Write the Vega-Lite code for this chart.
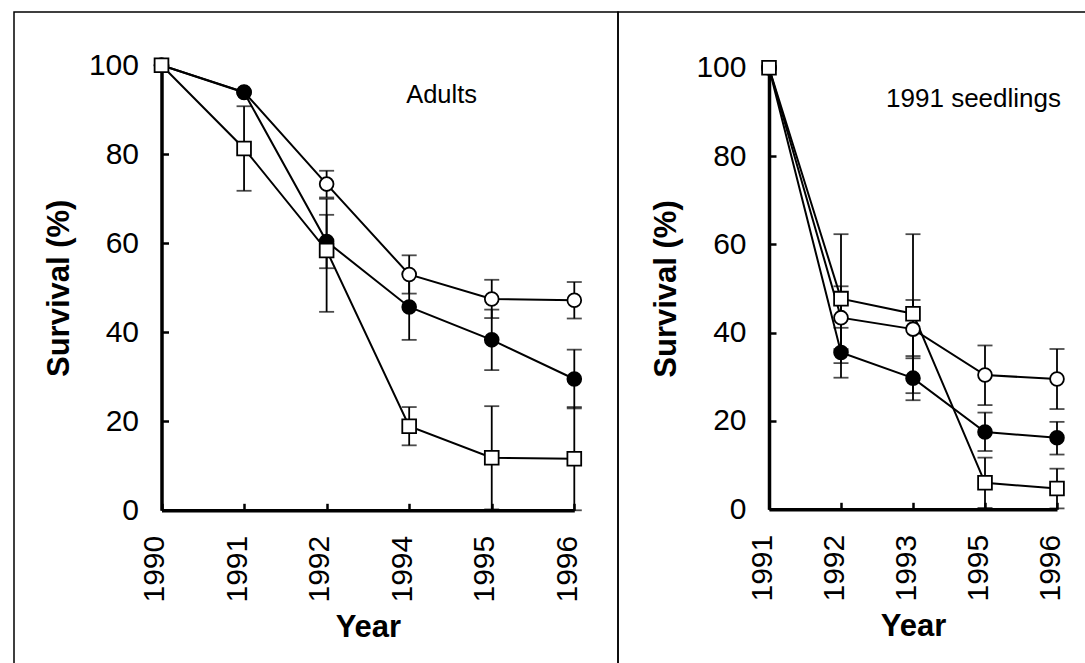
{
  "$schema": "https://vega.github.io/schema/vega-lite/v6.json",
  "padding": {"left": 13, "top": 11, "right": 0, "bottom": 0},
  "bounds": "flush",
  "spacing": 0,
  "datasets": {
    "adults": [
      {"year": 1990, "group": "G1", "value": 100, "lo": null, "hi": null},
      {"year": 1991, "group": "G1", "value": 94, "lo": null, "hi": null},
      {"year": 1992, "group": "G1", "value": 73.3, "lo": 70.3, "hi": 76.3},
      {"year": 1994, "group": "G1", "value": 53, "lo": 48.7, "hi": 57.3},
      {"year": 1995, "group": "G1", "value": 47.5, "lo": 43.2, "hi": 51.8},
      {"year": 1996, "group": "G1", "value": 47.2, "lo": 43.1, "hi": 51.3},
      {"year": 1990, "group": "G2", "value": 100, "lo": null, "hi": null},
      {"year": 1991, "group": "G2", "value": 93.9, "lo": null, "hi": null},
      {"year": 1992, "group": "G2", "value": 60.4, "lo": 54.4, "hi": 66.4},
      {"year": 1994, "group": "G2", "value": 45.7, "lo": 38.3, "hi": 53.1},
      {"year": 1995, "group": "G2", "value": 38.3, "lo": 31.5, "hi": 45.1},
      {"year": 1996, "group": "G2", "value": 29.5, "lo": 22.9, "hi": 36.1},
      {"year": 1990, "group": "G3", "value": 100, "lo": null, "hi": null},
      {"year": 1991, "group": "G3", "value": 81.3, "lo": 71.8, "hi": 90.8},
      {"year": 1992, "group": "G3", "value": 58.4, "lo": 44.6, "hi": 70},
      {"year": 1994, "group": "G3", "value": 18.9, "lo": 14.6, "hi": 23.2},
      {"year": 1995, "group": "G3", "value": 11.8, "lo": 0.2, "hi": 23.4},
      {"year": 1996, "group": "G3", "value": 11.6, "lo": 0, "hi": 23.2}
    ],
    "seedlings": [
      {"year": 1991, "group": "G1", "value": 100, "lo": null, "hi": null},
      {"year": 1992, "group": "G1", "value": 43.4, "lo": 36.3, "hi": 50.5},
      {"year": 1993, "group": "G1", "value": 40.8, "lo": 34.2, "hi": 47.4},
      {"year": 1995, "group": "G1", "value": 30.4, "lo": 23.6, "hi": 37.1},
      {"year": 1996, "group": "G1", "value": 29.5, "lo": 22.7, "hi": 36.3},
      {"year": 1991, "group": "G2", "value": 100, "lo": null, "hi": null},
      {"year": 1992, "group": "G2", "value": 35.5, "lo": 29.8, "hi": 41.1},
      {"year": 1993, "group": "G2", "value": 29.7, "lo": 24.7, "hi": 34.7},
      {"year": 1995, "group": "G2", "value": 17.5, "lo": 13.2, "hi": 21.9},
      {"year": 1996, "group": "G2", "value": 16.2, "lo": 12.4, "hi": 19.8},
      {"year": 1991, "group": "G3", "value": 100, "lo": null, "hi": null},
      {"year": 1992, "group": "G3", "value": 47.7, "lo": 33.1, "hi": 62.3},
      {"year": 1993, "group": "G3", "value": 44.3, "lo": 26.3, "hi": 62.3},
      {"year": 1995, "group": "G3", "value": 6, "lo": 0.3, "hi": 11.7},
      {"year": 1996, "group": "G3", "value": 4.7, "lo": 0.2, "hi": 9.2}
    ]
  },
  "config": {
    "view": {"stroke": "black", "strokeWidth": 1.5},
    "font": "Liberation Sans",
    "axis": {
      "grid": false,
      "domainColor": "black",
      "domainWidth": 3.5,
      "tickColor": "black",
      "tickWidth": 2.5,
      "tickSize": -7,
      "labelColor": "black",
      "labelFont": "Liberation Sans",
      "labelFontSize": 30,
      "titleColor": "black",
      "titleFont": "Liberation Sans",
      "titleFontSize": 31,
      "titleFontWeight": "bold"
    }
  },
  "hconcat": [
    {
      "width": 604,
      "height": 660,
      "data": {"name": "adults"},
      "encoding": {
        "x": {
          "field": "year", "type": "ordinal",
          "scale": {"type": "point", "padding": 0, "domain": [1990, 1991, 1992, 1994, 1995, 1996], "range": [147.5, 560.3]},
          "axis": {"title": "Year", "labelAngle": -90, "labelAlign": "right", "labelBaseline": "alphabetic", "labelPadding": 32, "labelOffset": 2, "offset": -161.7, "titlePadding": 10}
        },
        "y": {
          "field": "value", "type": "quantitative",
          "scale": {"domain": [0, 100], "range": [498.3, 53.3], "nice": false, "zero": false},
          "axis": {"title": "Survival (%)", "values": [0, 20, 40, 60, 80, 100], "offset": -147.5, "labelPadding": 30, "titlePadding": 13}
        }
      },
      "layer": [
        {
          "mark": {"type": "line", "color": "black", "strokeWidth": 2},
          "encoding": {"detail": {"field": "group"}}
        },
        {
          "transform": [{"filter": "isValid(datum.lo)"}],
          "mark": {"type": "errorbar", "color": "black", "thickness": 1.8, "ticks": {"size": 15}},
          "encoding": {
            "y": {"field": "lo", "type": "quantitative"},
            "y2": {"field": "hi"}
          }
        },
        {
          "mark": {"type": "point", "filled": true, "stroke": "black", "strokeWidth": 1.8, "size": 190, "opacity": 1},
          "encoding": {
            "shape": {"field": "group", "scale": {"domain": ["G1", "G2", "G3"], "range": ["circle", "circle", "square"]}, "legend": null},
            "fill": {"field": "group", "scale": {"domain": ["G1", "G2", "G3"], "range": ["white", "black", "white"]}, "legend": null}
          }
        },
        {
          "transform": [{"filter": "datum.year == 1994 && datum.group == 'G1'"}],
          "mark": {"type": "text", "align": "left", "baseline": "alphabetic", "fontSize": 25.5, "dx": -3, "color": "black"},
          "encoding": {
            "y": {"datum": 91.6, "type": "quantitative"},
            "text": {"value": "Adults"}
          }
        }
      ]
    },
    {
      "width": 480,
      "height": 660,
      "data": {"name": "seedlings"},
      "encoding": {
        "x": {
          "field": "year", "type": "ordinal",
          "scale": {"type": "point", "padding": 0, "domain": [1991, 1992, 1993, 1995, 1996], "range": [151, 439]},
          "axis": {"title": "Year", "labelAngle": -90, "labelAlign": "right", "labelBaseline": "alphabetic", "labelPadding": 32, "labelOffset": 2, "offset": -162.7, "titlePadding": 10}
        },
        "y": {
          "field": "value", "type": "quantitative",
          "scale": {"domain": [0, 100], "range": [497.3, 55.7], "nice": false, "zero": false},
          "axis": {"title": "Survival (%)", "values": [0, 20, 40, 60, 80, 100], "offset": -151, "labelPadding": 30, "titlePadding": 13}
        }
      },
      "layer": [
        {
          "mark": {"type": "line", "color": "black", "strokeWidth": 2},
          "encoding": {"detail": {"field": "group"}}
        },
        {
          "transform": [{"filter": "isValid(datum.lo)"}],
          "mark": {"type": "errorbar", "color": "black", "thickness": 1.8, "ticks": {"size": 15}},
          "encoding": {
            "y": {"field": "lo", "type": "quantitative"},
            "y2": {"field": "hi"}
          }
        },
        {
          "mark": {"type": "point", "filled": true, "stroke": "black", "strokeWidth": 1.8, "size": 190, "opacity": 1},
          "encoding": {
            "shape": {"field": "group", "scale": {"domain": ["G1", "G2", "G3"], "range": ["circle", "circle", "square"]}, "legend": null},
            "fill": {"field": "group", "scale": {"domain": ["G1", "G2", "G3"], "range": ["white", "black", "white"]}, "legend": null}
          }
        },
        {
          "transform": [{"filter": "datum.year == 1996 && datum.group == 'G1'"}],
          "mark": {"type": "text", "align": "right", "baseline": "alphabetic", "fontSize": 26, "dx": 4, "color": "black"},
          "encoding": {
            "y": {"datum": 91.1, "type": "quantitative"},
            "text": {"value": "1991 seedlings"}
          }
        }
      ]
    }
  ]
}
